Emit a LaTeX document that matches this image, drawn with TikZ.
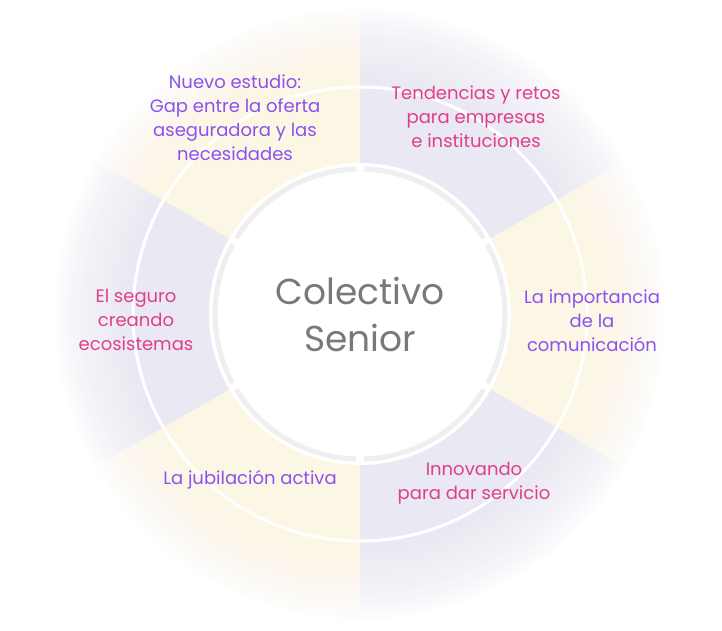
\documentclass[tikz,border=0pt]{standalone}
\usepackage{fontspec}
\setmainfont{Poppins}
\definecolor{yel}{HTML}{FCF6E4}
\definecolor{lav}{HTML}{E9E8F3}
\definecolor{pur}{HTML}{8A52EE}
\definecolor{pnk}{HTML}{DF3F8C}
\definecolor{ring}{HTML}{EFEFF0}
\tikzset{lbl/.style={align=center,font=\fontsize{18}{24}\selectfont},
 ctr/.style={align=center,text=gray!95!black,font=\fontsize{36}{47}\selectfont}}
\begin{document}
\begin{tikzpicture}[x=1pt,y=1pt]
\useasboundingbox (0,0) rectangle (722,630);
\coordinate (c) at (360,316);
\foreach \a/\col in {90/yel,30/lav,-30/yel,-90/lav,-150/yel,150/lav}{
  \fill[\col] (c) -- ++(\a:330) arc[start angle=\a,delta angle=60,radius=330] -- cycle;
}
\foreach \i in {0,...,15}{
  \pgfmathsetmacro{\r}{230+\i*5}
  \pgfmathsetmacro{\op}{1/(16-\i)}
  \fill[white,opacity=\op,even odd rule] (c) circle[radius=340] (c) circle[radius=\r];
}
\fill[white,even odd rule] (0,0) rectangle (722,630) (c) circle[radius=306];
\draw[white,line width=3] (c) circle[radius=227];
\fill[white] (c) circle[radius=151];
\foreach \a in {30,90,150,210,270,330}{
  \draw[ring,line width=5] (c) ++(\a+1.5:145) arc[start angle=\a+1.5,delta angle=57,radius=145];
}
\node[ctr] (t) at (c) {Colectivo\\Senior};
\node[lbl,text=pur] (a) at (235,512) {Nuevo estudio:\\Gap entre la oferta\\aseguradora y las\\necesidades};
\node[lbl,text=pnk] (b) at (476,513) {Tendencias y retos\\para empresas\\e instituciones};
\node[lbl,text=pur] (d) at (592,309) {La importancia\\de la\\comunicación};
\node[lbl,text=pnk] (e) at (474,147) {Innovando\\para dar servicio};
\node[lbl,text=pur] (f) at (250,150) {La jubilación activa};
\node[lbl,text=pnk] (g) at (136,310) {El seguro\\creando\\ecosistemas};
\end{tikzpicture}
\end{document}
